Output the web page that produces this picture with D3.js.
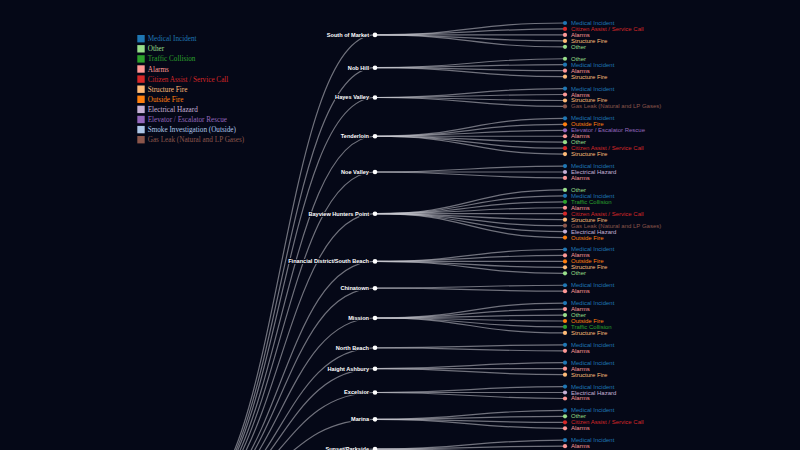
<!DOCTYPE html>
<html>
<head>
<meta charset="utf-8">
<script src="https://cdn.jsdelivr.net/npm/d3@7"></script>
<style>
  html, body { margin: 0; padding: 0; background: #050817; overflow: hidden; }
  svg { display: block; }
</style>
</head>
<body>
<svg id="chart" width="800" height="450"></svg>
<script>
// ---------------- data ----------------
const neighborhoods = [
  "South of Market", "Nob Hill", "Hayes Valley", "Tenderloin", "Noe Valley",
  "Bayview Hunters Point", "Financial District/South Beach", "Chinatown", "Mission",
  "North Beach", "Haight Ashbury", "Excelsior", "Marina", "Sunset/Parkside"
];

const callTypesByNeighborhood = [
  ["Medical Incident", "Citizen Assist / Service Call", "Alarms", "Structure Fire", "Other"],
  ["Other", "Medical Incident", "Alarms", "Structure Fire"],
  ["Medical Incident", "Alarms", "Structure Fire", "Gas Leak (Natural and LP Gases)"],
  ["Medical Incident", "Outside Fire", "Elevator / Escalator Rescue", "Alarms", "Other", "Citizen Assist / Service Call", "Structure Fire"],
  ["Medical Incident", "Electrical Hazard", "Alarms"],
  ["Other", "Medical Incident", "Traffic Collision", "Alarms", "Citizen Assist / Service Call", "Structure Fire", "Gas Leak (Natural and LP Gases)", "Electrical Hazard", "Outside Fire"],
  ["Medical Incident", "Alarms", "Outside Fire", "Structure Fire", "Other"],
  ["Medical Incident", "Alarms"],
  ["Medical Incident", "Alarms", "Other", "Outside Fire", "Traffic Collision", "Structure Fire"],
  ["Medical Incident", "Alarms"],
  ["Medical Incident", "Alarms", "Structure Fire"],
  ["Medical Incident", "Electrical Hazard", "Alarms"],
  ["Medical Incident", "Other", "Citizen Assist / Service Call", "Alarms"],
  ["Medical Incident", "Alarms", "Citizen Assist / Service Call", "Structure Fire"]
];

const legendTypes = [
  "Medical Incident", "Other", "Traffic Collision", "Alarms",
  "Citizen Assist / Service Call", "Structure Fire", "Outside Fire",
  "Electrical Hazard", "Elevator / Escalator Rescue",
  "Smoke Investigation (Outside)", "Gas Leak (Natural and LP Gases)"
];

const legendColors = [
  "#1f77b4", "#98df8a", "#2ca02c", "#ff9896", "#d62728", "#ffbb78",
  "#ff7f0e", "#c5b0d5", "#9467bd", "#aec7e8", "#8c564b"
];

// ---------------- layout ----------------
const W = 800, H = 450;
const bg = "#050817";
const leafStep = 5.96;       // vertical distance between sibling leaves
const levelStep = 190;       // horizontal distance between levels
const topMargin = 23;        // first leaf position
const rootLeft = 185;        // root column
const rootDrop = 470;        // the full tree continues below the frame; its root lies this far below the first branch

const color = d3.scaleOrdinal().domain(legendTypes).range(legendColors);

const data = {
  name: "root",
  children: neighborhoods.map((n, i) => ({
    name: n,
    children: callTypesByNeighborhood[i].map(c => ({ name: c }))
  }))
};

const root = d3.hierarchy(data);
d3.tree()
  .nodeSize([leafStep, levelStep])
  .separation((a, b) => a.parent === b.parent ? 1 : 2)(root);

const leaves = root.leaves();
const minX = d3.min(leaves, d => d.x);
root.x = root.children[0].x + rootDrop;

const py = d => d.x - minX + topMargin;
const px = d => d.y + rootLeft;

const svg = d3.select("#chart");
svg.append("rect").attr("width", W).attr("height", H).attr("fill", bg);

const link = d3.linkHorizontal().x(d => px(d)).y(d => py(d));

svg.append("g")
  .attr("fill", "none")
  .attr("stroke", "#c8c8d0")
  .attr("stroke-opacity", 0.55)
  .attr("stroke-width", 1.2)
  .selectAll("path")
  .data(root.links())
  .join("path")
  .attr("d", link);

const node = svg.append("g")
  .selectAll("g")
  .data(root.descendants())
  .join("g")
  .attr("transform", d => `translate(${px(d)},${py(d)})`);

node.append("circle")
  .attr("r", d => d.children ? 2.3 : 2.1)
  .attr("fill", d => d.children ? "#ffffff" : color(d.data.name));

node.filter(d => d.depth > 0).append("text")
  .attr("dy", "0.33em")
  .attr("x", d => d.children ? -6 : 6)
  .attr("text-anchor", d => d.children ? "end" : "start")
  .attr("font-family", "Liberation Sans, Arial, sans-serif")
  .attr("font-size", d => d.children ? 5.6 : 6)
  .attr("font-weight", d => d.children ? "bold" : "normal")
  .attr("fill", d => d.children ? "#ffffff" : color(d.data.name))
  .attr("stroke", bg)
  .attr("stroke-width", 1.8)
  .attr("stroke-linejoin", "round")
  .attr("paint-order", "stroke")
  .text(d => d.data.name);

// ---------------- legend ----------------
const legendY = d3.scalePoint().domain(legendTypes).range([38.7, 139.7]);
const legend = svg.append("g")
  .selectAll("g")
  .data(legendTypes)
  .join("g")
  .attr("transform", d => `translate(137.3,${legendY(d)})`);

legend.append("rect")
  .attr("x", 0).attr("y", -3.7)
  .attr("width", 7.4).attr("height", 7.4)
  .attr("fill", d => color(d));

legend.append("text")
  .attr("x", 10.4)
  .attr("dy", "0.35em")
  .attr("font-family", "Liberation Serif, Times New Roman, serif")
  .attr("font-size", 7.2)
  .attr("fill", d => color(d))
  .text(d => d);
</script>
</body>
</html>
